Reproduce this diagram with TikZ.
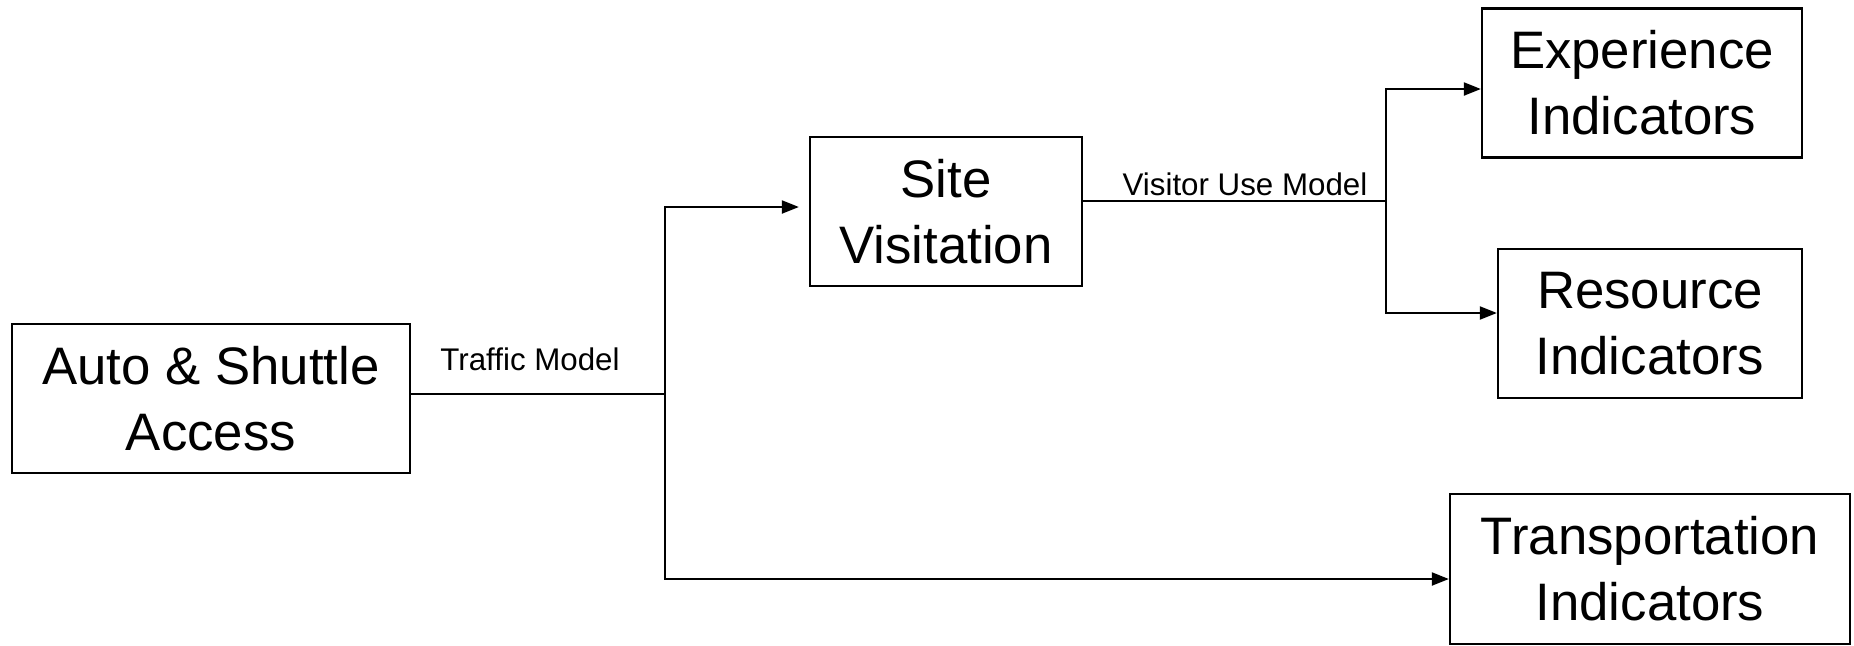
\documentclass[tikz,border=0pt]{standalone}
\usepackage{fontspec}
\setmainfont{Liberation Sans}
\usetikzlibrary{arrows.meta,positioning}

\begin{document}
\begin{tikzpicture}[x=0.01cm,y=-0.01cm,line width=0.6pt]
\tikzstyle{every node}+=[inner sep=0pt]
\tikzstyle{box}=[draw=black, align=center, font=\fontsize{15}{18.8}\selectfont, minimum height=1.49cm]
\tikzstyle{lbl}=[font=\fontsize{8.9}{10}\selectfont, anchor=base]
\tikzstyle{arr}=[-{Triangle[length=1.7mm,width=1.3mm]}]
\useasboundingbox (0,0) rectangle (1854,645);
\node[box, minimum width=3.98cm] (auto) at (211,398.5) {Auto \& Shuttle\\Access};
\node[box, minimum width=2.72cm] (site) at (946,211.5) {Site\\Visitation};
\node[box, minimum width=3.2cm] (exp) at (1642,83) {Experience\\Indicators};
\node[box, minimum width=3.04cm] (res) at (1650,323.5) {Resource\\Indicators};
\node[box, minimum width=4cm, minimum height=1.5cm] (trans) at (1650,569) {Transportation\\Indicators};
\coordinate (tj) at (665,394);
\coordinate (vj) at (1386,201);
\draw (auto.east |- tj) -- (tj);
\draw[arr, shorten >=1mm] (tj) |- ([yshift=0.45mm]site.west);
\draw[arr] (tj) |- ([yshift=-1mm]trans.west);
\draw (site.east |- vj) -- (vj);
\draw[arr] (vj) |- ([yshift=-0.6mm]exp.west);
\draw[arr] (vj) |- ([yshift=1.05mm]res.west);
\node[lbl] (traffic) at (530,370) {Traffic Model};
\node[lbl] (visitor) at (1245,195) {Visitor Use Model};
\end{tikzpicture}
\end{document}
